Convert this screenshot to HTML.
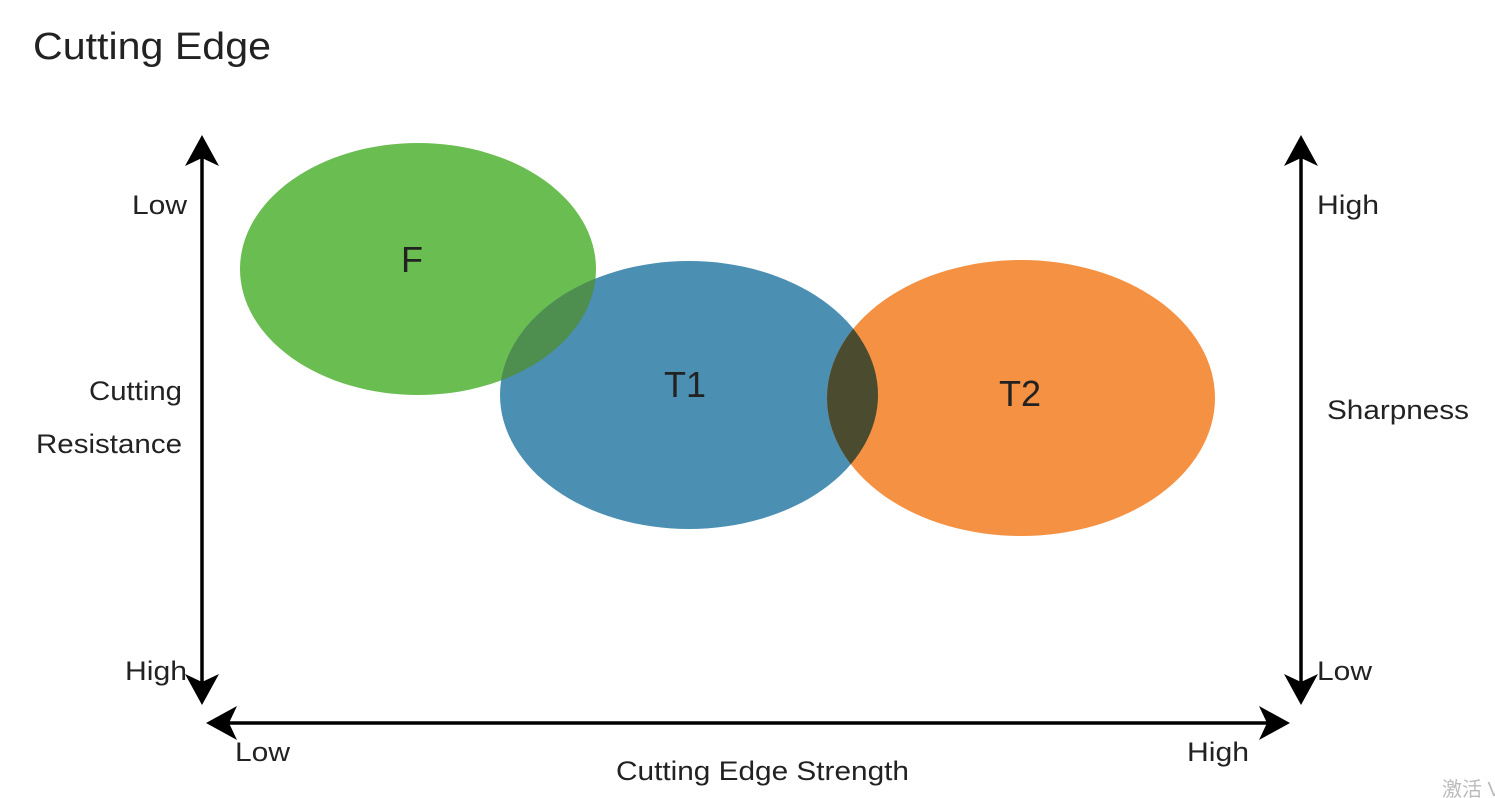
<!DOCTYPE html>
<html><head><meta charset="utf-8"><style>
html,body{margin:0;padding:0;background:#fff;width:1495px;height:798px;overflow:hidden}
svg text{font-family:"Liberation Sans","Noto Sans CJK SC",sans-serif;fill:#222}
</style></head><body>
<svg width="1495" height="798" xmlns="http://www.w3.org/2000/svg">
<defs>
<clipPath id="cT1"><ellipse cx="689" cy="395" rx="189" ry="134"/></clipPath>
</defs>
<text x="33" y="59" font-size="38" textLength="238" lengthAdjust="spacingAndGlyphs">Cutting Edge</text>
<ellipse cx="418" cy="269" rx="178" ry="126" fill="#6abd50"/>
<ellipse cx="689" cy="395" rx="189" ry="134" fill="#4b8fb3"/>
<ellipse cx="1021" cy="398" rx="194" ry="138" fill="#f59142"/>
<ellipse cx="418" cy="269" rx="178" ry="126" fill="#4e8f50" clip-path="url(#cT1)"/>
<ellipse cx="1021" cy="398" rx="194" ry="138" fill="#4a4b2f" clip-path="url(#cT1)"/>
<text x="412" y="272" font-size="36" text-anchor="middle">F</text>
<text x="685" y="397" font-size="36" text-anchor="middle">T1</text>
<text x="1020" y="406" font-size="36" text-anchor="middle">T2</text>
<g stroke="#000" stroke-width="3.5" fill="none">
<line x1="202" y1="150" x2="202" y2="690"/>
<line x1="1301" y1="150" x2="1301" y2="690"/>
<line x1="222" y1="723" x2="1274" y2="723"/>
</g>
<g fill="#000">
<path d="M202 135 L219 166 L202 158 L185 166 Z"/>
<path d="M202 705 L219 674 L202 682 L185 674 Z"/>
<path d="M1301 135 L1318 166 L1301 158 L1284 166 Z"/>
<path d="M1301 705 L1318 674 L1301 682 L1284 674 Z"/>
<path d="M206 723 L237 706 L229 723 L237 740 Z"/>
<path d="M1290 723 L1259 706 L1267 723 L1259 740 Z"/>
</g>
<g font-size="27">
<text x="132" y="214" textLength="55" lengthAdjust="spacingAndGlyphs">Low</text>
<text x="89" y="400" textLength="93" lengthAdjust="spacingAndGlyphs">Cutting</text>
<text x="36" y="453" textLength="146" lengthAdjust="spacingAndGlyphs">Resistance</text>
<text x="125" y="680" textLength="62" lengthAdjust="spacingAndGlyphs">High</text>
<text x="1317" y="214" textLength="62" lengthAdjust="spacingAndGlyphs">High</text>
<text x="1327" y="419" textLength="142" lengthAdjust="spacingAndGlyphs">Sharpness</text>
<text x="1317" y="680" textLength="55" lengthAdjust="spacingAndGlyphs">Low</text>
<text x="235" y="761" textLength="55" lengthAdjust="spacingAndGlyphs">Low</text>
<text x="1187" y="761" textLength="62" lengthAdjust="spacingAndGlyphs">High</text>
<text x="616" y="780" textLength="293" lengthAdjust="spacingAndGlyphs">Cutting Edge Strength</text>
</g>
<text x="1442" y="796" font-size="20" style="fill:#bbb">激活 V</text>
</svg>
</body></html>
